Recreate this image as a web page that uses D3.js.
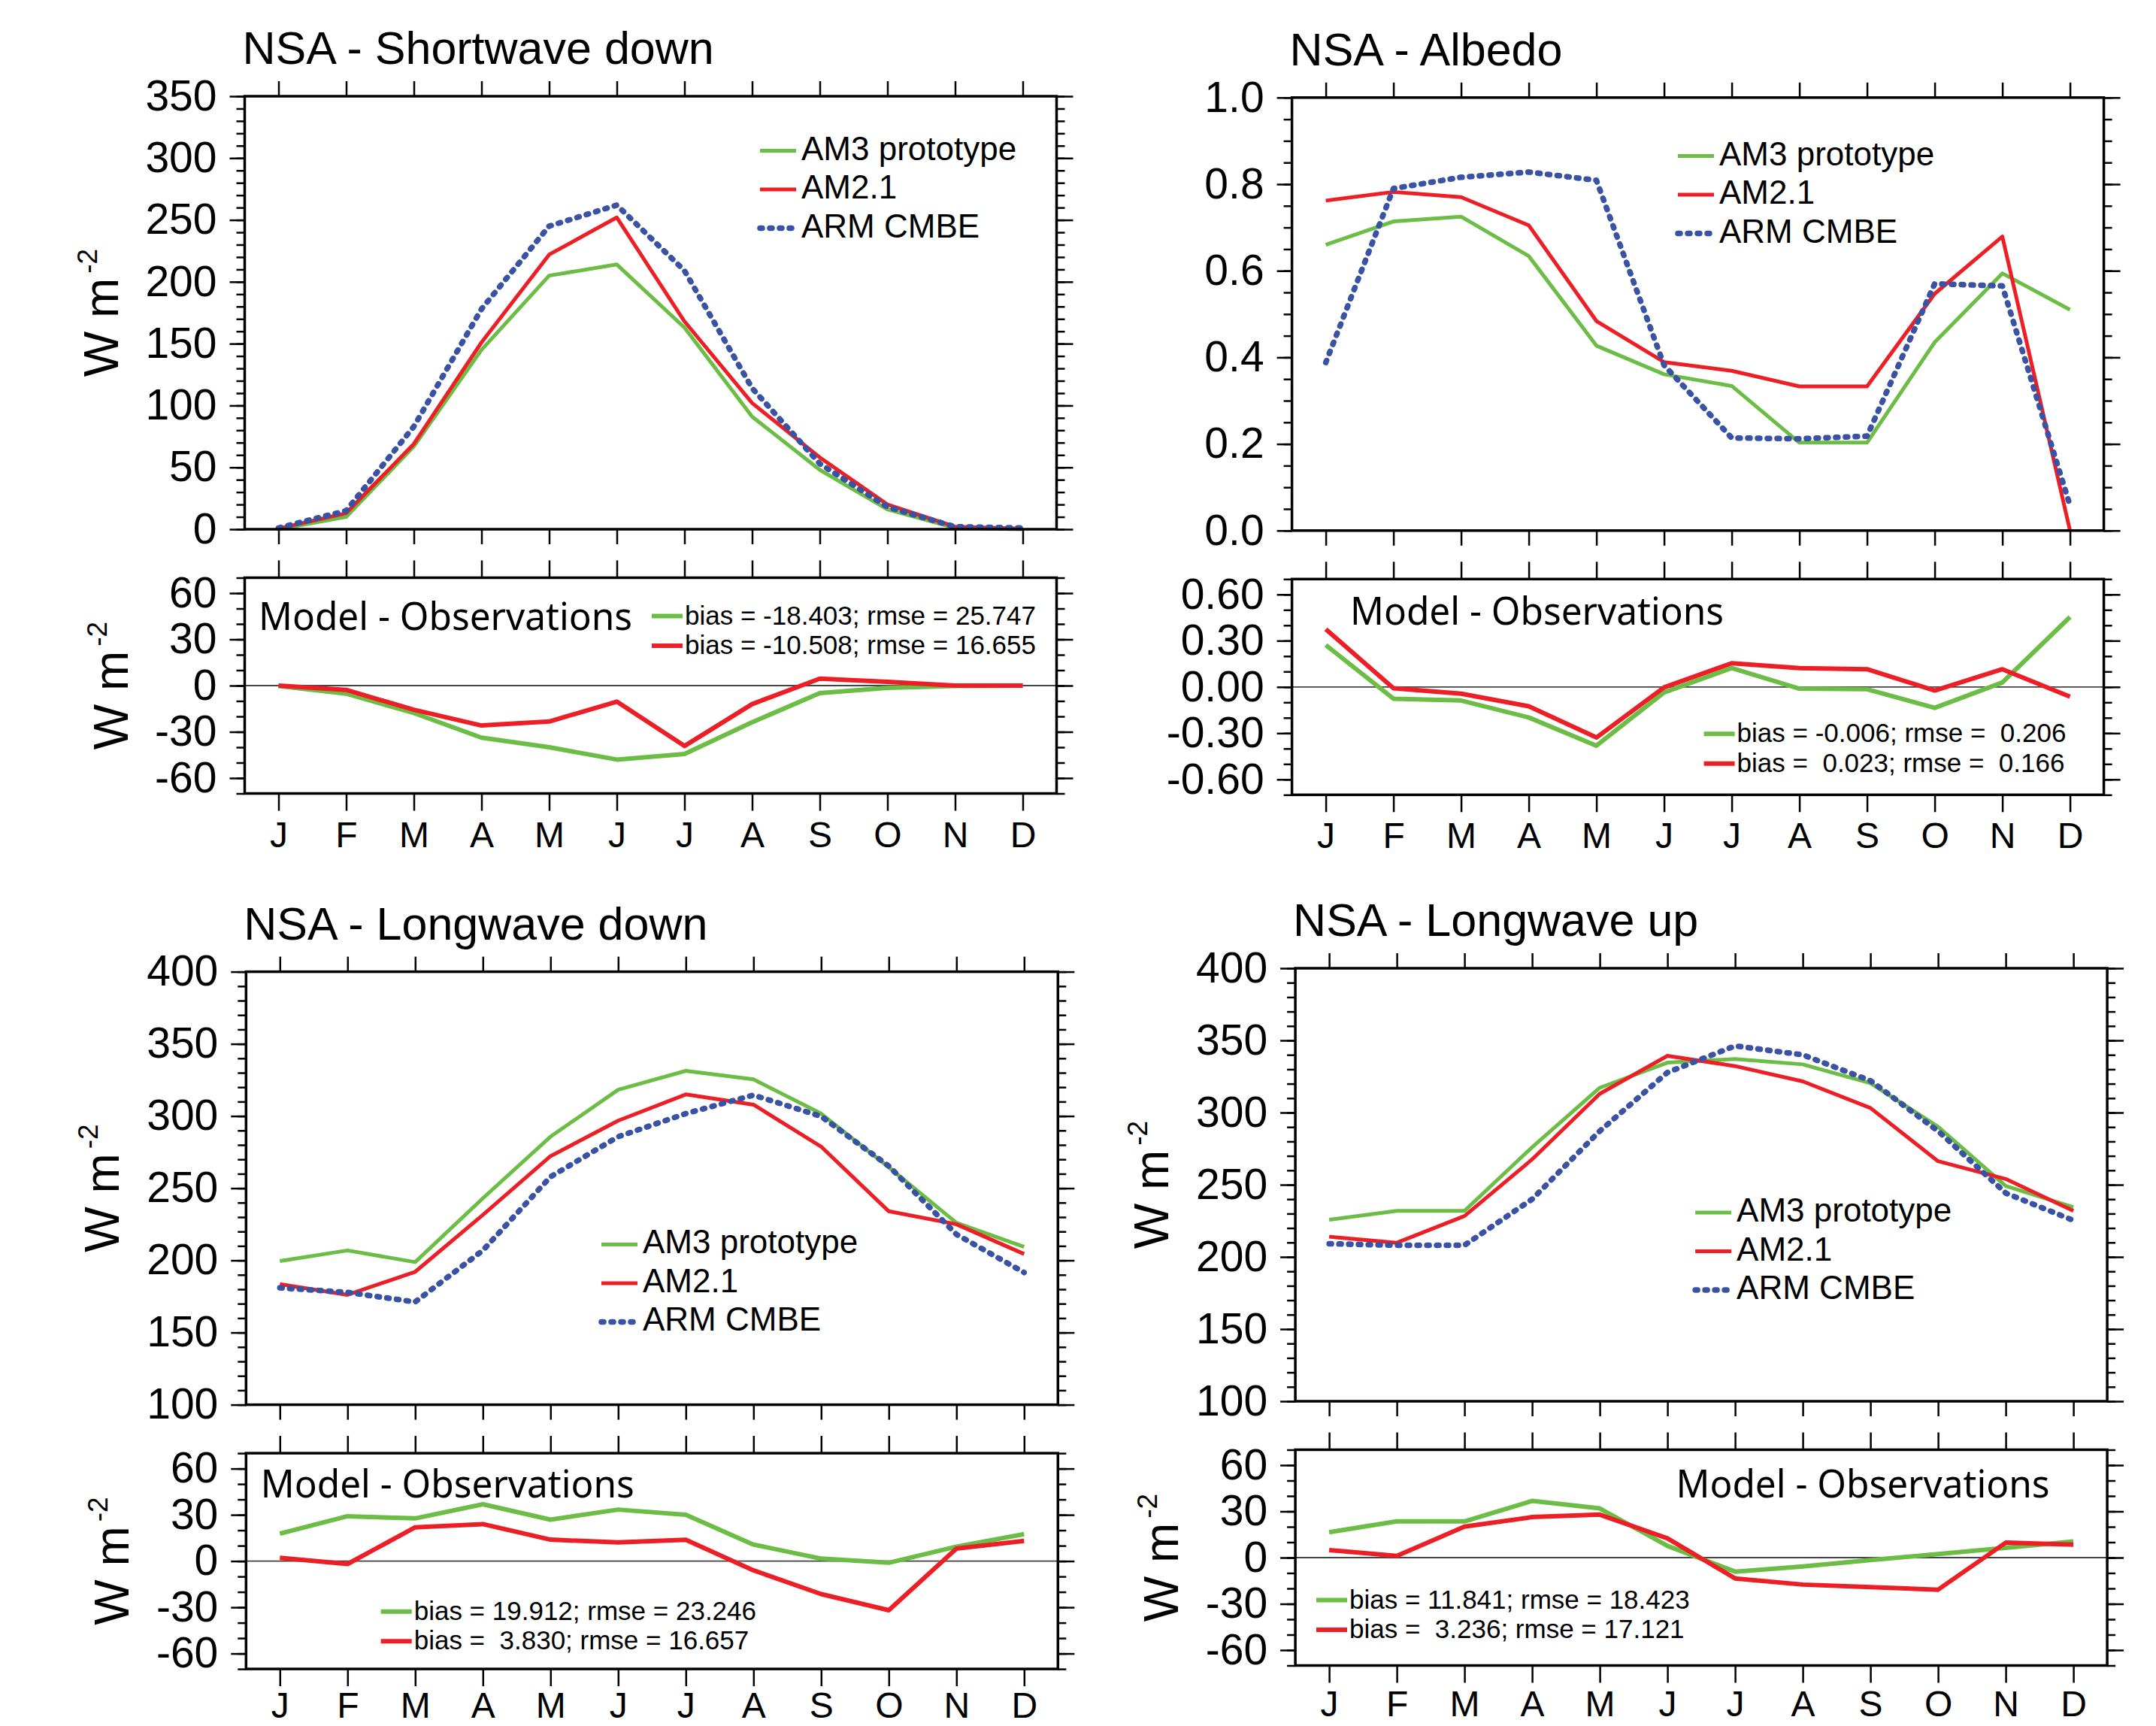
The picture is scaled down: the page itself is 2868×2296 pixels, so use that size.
<!DOCTYPE html>
<html>
<head>
<meta charset="utf-8">
<script src="https://cdn.jsdelivr.net/npm/d3@7"></script>
<style>
    body { margin: 0; background: #fff; }
    text { font-family: "Liberation Sans", Arial, Helvetica, sans-serif; fill: #000; }
    .title { font-size: 61px; }
    .yaxis text { font-size: 57px; font-family: "Liberation Sans", Arial, sans-serif; }
    .xaxis text { font-size: 48px; font-family: "Liberation Sans", Arial, sans-serif; }
    .ytitle { font-size: 64px; }
    .legend { font-size: 44px; }
    .stats { font-size: 35px; white-space: pre; }
    .modelObs { font-family: "Noto Sans", "Open Sans", sans-serif; font-size: 51px; }
</style>
</head>
<body>
<script>

var months = ['J', 'F', 'M', 'A', 'M', 'J', 'J', 'A', 'S', 'O', 'N', 'D'];
var seriesNames = ['AM3 prototype', 'AM2.1', 'ARM CMBE'];

// Shortwave down
var swAm3 = [0, 10, 67, 145, 205, 214, 163, 91, 48, 16, 1, 0];
var swAm21 = [0.5, 13, 69, 151, 222, 252, 168, 102, 58, 20, 2, 0.5];
var swArm = [1, 15, 83, 178, 245, 262, 209, 114, 53, 18, 2, 1];
var swDiffAm3 = [-0.3, -5.2, -17.8, -33.8, -40, -48, -44.4, -23.8, -4.9, -1.5, -0.3, 0];
var swDiffAm21 = [0, -2.8, -15.7, -25.9, -23.3, -10.4, -39.2, -12, 4.5, 2.4, 0, 0];
var swStats = ['bias = -18.403; rmse = 25.747', 'bias = -10.508; rmse = 16.655'];

// Albedo
var albAm3 = [0.660, 0.714, 0.725, 0.634, 0.427, 0.361, 0.334, 0.203, 0.203, 0.435, 0.594, 0.510];
var albAm21 = [0.762, 0.782, 0.770, 0.705, 0.484, 0.389, 0.369, 0.333, 0.333, 0.547, 0.679, 0.0];
var albArm = [0.388, 0.790, 0.816, 0.828, 0.809, 0.382, 0.214, 0.212, 0.218, 0.570, 0.565, 0.058];
var albDiffAm3 = [0.272, -0.076, -0.088, -0.198, -0.381, -0.036, 0.123, -0.011, -0.015, -0.136, 0.029, 0.454];
var albDiffAm21 = [0.375, -0.008, -0.044, -0.125, -0.328, -0.003, 0.154, 0.122, 0.115, -0.023, 0.115, -0.063];
var albStats = ['bias = -0.006; rmse =  0.206', 'bias =  0.023; rmse =  0.166'];

// Longwave down
var lwdAm3 = [199.5, 206.9, 198.8, 243, 285.7, 318.2, 331.3, 325.4, 301.7, 264.5, 226, 209.4];
var lwdAm21 = [183.5, 176.1, 192.1, 231.5, 272.2, 296.8, 315, 307.9, 278.8, 234, 225, 204.4];
var lwdArm = [181, 177.8, 171.2, 206.9, 257.9, 285.7, 301.7, 314.5, 299.8, 265.3, 218, 191.6];
var lwdDiffAm3 = [17.8, 29.1, 27.7, 36.9, 26.9, 33.4, 30, 10.7, 1.6, -1.1, 9.4, 17.5];
var lwdDiffAm21 = [2.1, -1.9, 21.9, 24, 13.9, 12.1, 13.8, -6, -21.4, -31.9, 8.1, 13.1];
var lwdStats = ['bias = 19.912; rmse = 23.246', 'bias =  3.830; rmse = 16.657'];

// Longwave up
var lwuAm3 = [225.8, 231.9, 231.9, 276, 317.2, 334.6, 337.1, 333.4, 320.4, 290.2, 249.1, 234.4];
var lwuAm21 = [214, 209.8, 228.3, 267.6, 313, 339.3, 332.2, 321.6, 303.2, 266.3, 254, 231.9];
var lwuArm = [209.1, 208.1, 208.1, 240, 287.2, 327.8, 346.2, 340, 322.1, 287.2, 244.2, 225.3];
var lwuDiffAm3 = [16.5, 23.5, 23.5, 36.8, 31.9, 7.6, -9.1, -5.7, -1.6, 2.3, 6.3, 10.5];
var lwuDiffAm21 = [4.9, 1.1, 20.1, 26.3, 27.9, 12.5, -13.5, -17.5, -19.1, -20.8, 9.7, 8.4];
var lwuStats = ['bias = 11.841; rmse = 18.423', 'bias =  3.236; rmse = 17.121'];

// tick labels
var swTicks = [0, 50, 100, 150, 200, 250, 300, 350];
var albTicks = [0, 0.2, 0.4, 0.6, 0.8, 1.0];
var lwTicks = [100, 150, 200, 250, 300, 350, 400];
var diffTicks = [-60, -30, 0, 30, 60];
var albDiffTicks = [-0.6, -0.3, 0, 0.3, 0.6];

var colours = ['#6cbd45', '#ec1f26', '#3a52a3'];

var plotW = 1080, mainH = 576, diffH = 287, gap = 64.5;

var panels = [
    { title: 'NSA - Shortwave down', left: 325.5, top: 128,
      domain: [0, 350], ticks: swTicks, minor: 10, digits: 0,
      diffDomain: [-70, 70], diffTicks: diffTicks, diffMinor: 10, diffDigits: 0,
      series: [swAm3, swAm21, swArm], diffs: [swDiffAm3, swDiffAm21], stats: swStats, yTitle: true,
      legend: [685.5, 72.6], statsPos: [541.5, 51], obsPos: [18.5, 69.3], monthPad: 14 },
    { title: 'NSA - Albedo', left: 1718.6, top: 129.8,
      domain: [0, 1], ticks: albTicks, minor: 0.05, digits: 1,
      diffDomain: [-0.7, 0.7], diffTicks: albDiffTicks, diffMinor: 0.1, diffDigits: 2,
      series: [albAm3, albAm21, albArm], diffs: [albDiffAm3, albDiffAm21], stats: albStats, yTitle: false,
      legend: [513.4, 77.8], statsPos: [548, 206], obsPos: [77.4, 61], monthPad: 14 },
    { title: 'NSA - Longwave down', left: 327.3, top: 1292.6,
      domain: [100, 400], ticks: lwTicks, minor: 10, digits: 0,
      diffDomain: [-70, 70], diffTicks: diffTicks, diffMinor: 10, diffDigits: 0,
      series: [lwdAm3, lwdAm21, lwdArm], diffs: [lwdDiffAm3, lwdDiffAm21], stats: lwdStats, yTitle: true,
      legend: [472.7, 362.9], statsPos: [179.4, 210.6], obsPos: [19.5, 59], monthPad: 8 },
    { title: 'NSA - Longwave up', left: 1723.1, top: 1288,
      domain: [100, 400], ticks: lwTicks, minor: 10, digits: 0,
      diffDomain: [-70, 70], diffTicks: diffTicks, diffMinor: 10, diffDigits: 0,
      series: [lwuAm3, lwuAm21, lwuArm], diffs: [lwuDiffAm3, lwuDiffAm21], stats: lwuStats, yTitle: true,
      legend: [532, 325], statsPos: [27.9, 200], obsPos: [506.4, 63.4], monthPad: 10 }
];

var svg = d3.select('body').append('svg')
    .attr('width', 2868)
    .attr('height', 2296);

svg.append('rect').attr('width', 2868).attr('height', 2296).attr('fill', '#fff');

function styleLine(sel, i, w) { // green, red solid; blue beaded dots
    sel.attr('fill', 'none')
        .attr('stroke', colours[i])
        .attr('stroke-width', i == 2 ? 7.5 : w)
        .attr('stroke-linejoin', 'round');
    if (i == 2) sel.attr('stroke-dasharray', '3 10').attr('stroke-linecap', 'round');
    return sel;
}

function frame(g, x, y, h, major, minor, digits, xTick, pad) {
    var fmt = v => v.toFixed(digits); // plain hyphen for negatives
    g.append('g').attr('class', 'yaxis')
        .call(d3.axisLeft(y).tickValues(major).tickSize(20).tickPadding(17).tickFormat(fmt));
    g.append('g').call(d3.axisLeft(y).tickValues(minor).tickSize(11).tickFormat(''));
    g.append('g').attr('transform', `translate(${plotW},0)`)
        .call(d3.axisRight(y).tickValues(major).tickSize(22).tickFormat(''));
    g.append('g').attr('transform', `translate(${plotW},0)`)
        .call(d3.axisRight(y).tickValues(minor).tickSize(11).tickFormat(''));
    g.append('g').call(d3.axisTop(x).tickValues(d3.range(12)).tickSize(xTick).tickFormat(''));
    g.append('g').attr('class', 'xaxis')
        .attr('transform', `translate(0,${h})`)
        .call(d3.axisBottom(x).tickValues(d3.range(12)).tickSize(xTick).tickPadding(pad || 0)
            .tickFormat(pad ? (i => months[i]) : ''));
    g.selectAll('.domain').remove();
    g.selectAll('.tick line').attr('stroke', '#000').attr('stroke-width', 2.5);
    g.selectAll('g').attr('font-size', null).attr('font-family', null);
}

function yTitle(g, xPos, h) {
    var t = g.append('text')
        .attr('class', 'ytitle')
        .attr('transform', `translate(${xPos},${h / 2}) rotate(-90)`)
        .attr('text-anchor', 'middle');
    t.append('tspan').text('W m');
    t.append('tspan').attr('dx', 6).attr('dy', -28).style('font-size', '37px').text('-2');
}

function drawPanel(p) {
    var x = d3.scaleLinear().domain([-0.5, 11.5]).range([0, plotW]);
    var minorMain = d3.range(p.domain[0], p.domain[1] + p.minor / 2, p.minor);
    var minorDiff = d3.range(p.diffDomain[0], p.diffDomain[1] + p.diffMinor / 2, p.diffMinor);

    // ---- main panel
    var y = d3.scaleLinear().domain(p.domain).range([mainH, 0]);
    var main = svg.append('g').attr('transform', `translate(${p.left},${p.top})`);

    main.append('text')
        .attr('class', 'title')
        .attr('x', -3)
        .attr('y', -43)
        .text(p.title);

    frame(main, x, y, mainH, p.ticks, minorMain, p.digits, 20, 0);

    var line = d3.line().x((d, i) => x(i)).y(d => y(d));
    p.series.forEach((s, i) => {
        main.append('path').datum(s).attr('d', line).call(styleLine, i, 5);
    });

    main.append('rect')
        .attr('width', plotW).attr('height', mainH)
        .attr('fill', 'none').attr('stroke', '#000').attr('stroke-width', 3.5);

    seriesNames.forEach((name, i) => { // legend
        var ly = p.legend[1] + i * 51.5;
        main.append('line')
            .attr('x1', p.legend[0]).attr('x2', p.legend[0] + 48)
            .attr('y1', ly).attr('y2', ly)
            .call(styleLine, i, 5);
        main.append('text')
            .attr('class', 'legend')
            .attr('x', p.legend[0] + 55)
            .attr('y', ly + 12)
            .text(name);
    });

    if (p.yTitle) yTitle(main, -169, mainH);

    // ---- model - observations panel
    var yd = d3.scaleLinear().domain(p.diffDomain).range([diffH, 0]);
    var diff = svg.append('g').attr('transform', `translate(${p.left},${p.top + mainH + gap})`);

    frame(diff, x, yd, diffH, p.diffTicks, minorDiff, p.diffDigits, 23, p.monthPad);

    diff.append('line')
        .attr('x1', 0).attr('x2', plotW)
        .attr('y1', yd(0)).attr('y2', yd(0))
        .attr('stroke', '#444').attr('stroke-width', 1.8);

    var dline = d3.line().x((d, i) => x(i)).y(d => yd(d));
    p.diffs.forEach((s, i) => {
        diff.append('path').datum(s).attr('d', dline).call(styleLine, i, 6);
    });

    diff.append('rect')
        .attr('width', plotW).attr('height', diffH)
        .attr('fill', 'none').attr('stroke', '#000').attr('stroke-width', 3.5);

    diff.append('text')
        .attr('class', 'modelObs')
        .attr('x', p.obsPos[0])
        .attr('y', p.obsPos[1])
        .attr('textLength', 497)
        .attr('lengthAdjust', 'spacingAndGlyphs')
        .text('Model - Observations');

    p.stats.forEach((s, i) => { // bias / rmse legend
        var sy = p.statsPos[1] + i * 39.5;
        diff.append('line')
            .attr('x1', p.statsPos[0]).attr('x2', p.statsPos[0] + 41)
            .attr('y1', sy).attr('y2', sy)
            .call(styleLine, i, 6);
        diff.append('text')
            .attr('class', 'stats')
            .attr('xml:space', 'preserve')
            .attr('x', p.statsPos[0] + 44)
            .attr('y', sy + 11)
            .text(s);
    });

    if (p.yTitle) yTitle(diff, -156, diffH);
}

panels.forEach(drawPanel);

</script>
</body>
</html>
